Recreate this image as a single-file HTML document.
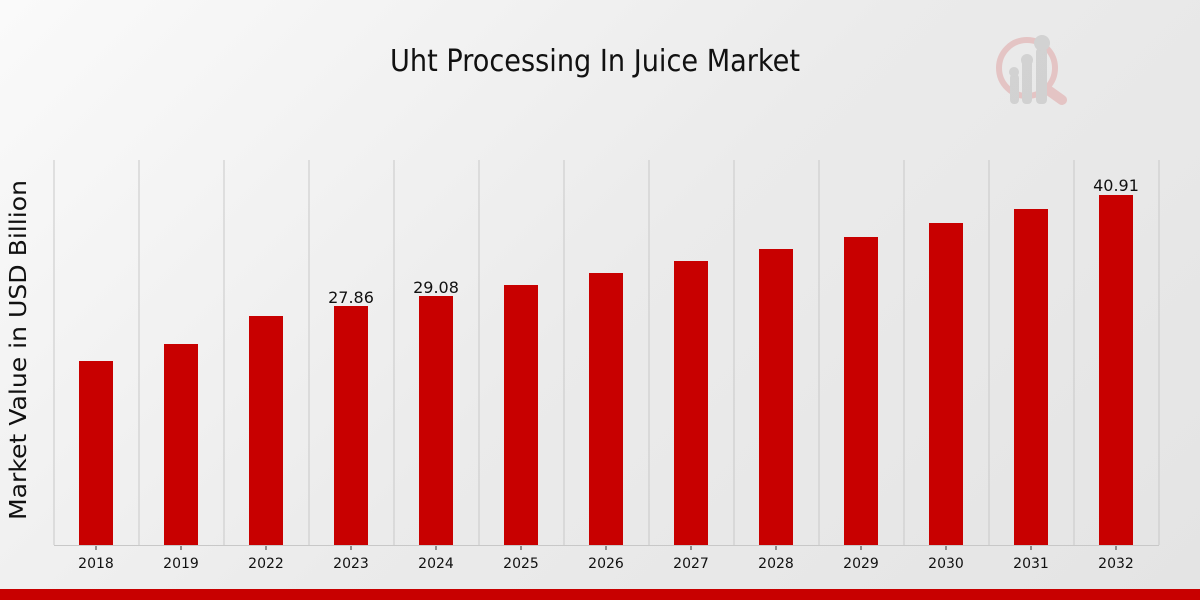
<!DOCTYPE html>
<html><head><meta charset="utf-8"><style>
html,body{margin:0;padding:0;width:1200px;height:600px;overflow:hidden}
body{background:linear-gradient(135deg,#fafafa 0%,#ebebeb 50%,#e4e4e4 100%)}
text{font-family:"DejaVu Sans","Liberation Sans",sans-serif}
</style></head><body>
<svg width="1200" height="600" xmlns="http://www.w3.org/2000/svg">
<text x="595" y="71" text-anchor="middle" font-size="30" textLength="410" lengthAdjust="spacingAndGlyphs" font-family="DejaVu Sans Condensed, Liberation Sans, sans-serif" fill="#111">Uht Processing In Juice Market</text>
<g opacity="0.5">
<circle cx="1027" cy="68" r="28" fill="none" stroke="#e0a0a0" stroke-width="6"/>
<line x1="1048" y1="90" x2="1062" y2="100" stroke="#e0a0a0" stroke-width="10" stroke-linecap="round"/>
<rect x="1010" y="74" width="9" height="30" rx="4" fill="#bbb"/>
<rect x="1022" y="60" width="10" height="44" rx="4" fill="#bbb"/>
<rect x="1036" y="48" width="11" height="56" rx="4" fill="#bbb"/>
<circle cx="1014" cy="72" r="5" fill="#bbb"/><circle cx="1027" cy="60" r="6" fill="#bbb"/><circle cx="1042" cy="43" r="8" fill="#bbb"/>
</g>
<text transform="translate(26,350) rotate(-90)" text-anchor="middle" font-size="23" textLength="340" lengthAdjust="spacingAndGlyphs" fill="#111">Market Value in USD Billion</text>
<g stroke="#c8c8c8" stroke-width="1">
<line x1="54" y1="160" x2="54" y2="545"/><line x1="139" y1="160" x2="139" y2="545"/><line x1="224" y1="160" x2="224" y2="545"/><line x1="309" y1="160" x2="309" y2="545"/><line x1="394" y1="160" x2="394" y2="545"/><line x1="479" y1="160" x2="479" y2="545"/><line x1="564" y1="160" x2="564" y2="545"/><line x1="649" y1="160" x2="649" y2="545"/><line x1="734" y1="160" x2="734" y2="545"/><line x1="819" y1="160" x2="819" y2="545"/><line x1="904" y1="160" x2="904" y2="545"/><line x1="989" y1="160" x2="989" y2="545"/><line x1="1074" y1="160" x2="1074" y2="545"/><line x1="1159" y1="160" x2="1159" y2="545"/>
<line x1="54" y1="545.5" x2="1159" y2="545.5"/>
</g>
<g fill="#c80000">
<rect x="79" y="361" width="34" height="184"/><rect x="164" y="344" width="34" height="201"/><rect x="249" y="316" width="34" height="229"/><rect x="334" y="306" width="34" height="239"/><rect x="419" y="296" width="34" height="249"/><rect x="504" y="285" width="34" height="260"/><rect x="589" y="273" width="34" height="272"/><rect x="674" y="261" width="34" height="284"/><rect x="759" y="249" width="34" height="296"/><rect x="844" y="237" width="34" height="308"/><rect x="929" y="223" width="34" height="322"/><rect x="1014" y="209" width="34" height="336"/><rect x="1099" y="195" width="34" height="350"/>
</g>
<g stroke="#333"><line x1="96" y1="546" x2="96" y2="550"/><line x1="181" y1="546" x2="181" y2="550"/><line x1="266" y1="546" x2="266" y2="550"/><line x1="351" y1="546" x2="351" y2="550"/><line x1="436" y1="546" x2="436" y2="550"/><line x1="521" y1="546" x2="521" y2="550"/><line x1="606" y1="546" x2="606" y2="550"/><line x1="691" y1="546" x2="691" y2="550"/><line x1="776" y1="546" x2="776" y2="550"/><line x1="861" y1="546" x2="861" y2="550"/><line x1="946" y1="546" x2="946" y2="550"/><line x1="1031" y1="546" x2="1031" y2="550"/><line x1="1116" y1="546" x2="1116" y2="550"/></g>
<g font-size="14" text-anchor="middle" fill="#111" font-family="DejaVu Sans Condensed, DejaVu Sans, sans-serif">
<text x="96" y="568">2018</text><text x="181" y="568">2019</text><text x="266" y="568">2022</text><text x="351" y="568">2023</text><text x="436" y="568">2024</text><text x="521" y="568">2025</text><text x="606" y="568">2026</text><text x="691" y="568">2027</text><text x="776" y="568">2028</text><text x="861" y="568">2029</text><text x="946" y="568">2030</text><text x="1031" y="568">2031</text><text x="1116" y="568">2032</text>
</g>
<g font-size="16" text-anchor="middle" fill="#111" font-family="DejaVu Sans Condensed, DejaVu Sans, sans-serif">
<text x="351" y="303">27.86</text><text x="436" y="293">29.08</text><text x="1116" y="191">40.91</text>
</g>
<rect x="0" y="589" width="1200" height="11" fill="#c80000"/>
</svg>
</body></html>
